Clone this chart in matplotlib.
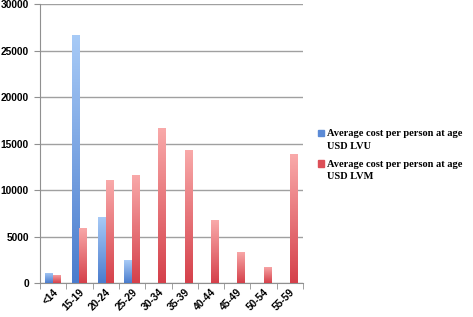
import numpy as np
import matplotlib
matplotlib.use("Agg")
import matplotlib.pyplot as plt
from matplotlib.colors import LinearSegmentedColormap

ages = ["<14", "15-19", "20-24", "25-29", "30-34", "35-39", "40-44", "45-49", "50-54", "55-59"]
lvu = [1100, 26700, 7100, 2450, 0, 0, 0, 0, 0, 0]
lvm = [870, 5950, 11050, 11650, 16700, 14350, 6750, 3350, 1750, 13850]
yticks = [0, 5000, 10000, 15000, 20000, 25000, 30000]

blue_cm = LinearSegmentedColormap.from_list("b", ["#4a7ccd", "#a8cbf7"])
red_cm = LinearSegmentedColormap.from_list("r", ["#d5404a", "#f9aaaa"])

def gradient_bars(ax, bars, cmap):
	# paint each bar with a vertical gradient clipped to its patch
	grad = np.linspace(0, 1, 256).reshape(-1, 1)
	for b in bars:
		if b.get_height() <= 0:
			continue
		x0, y0 = b.get_x(), b.get_y()
		w, h = b.get_width(), b.get_height()
		im = ax.imshow(grad, cmap=cmap, origin="lower", aspect="auto",
			extent=[x0, x0 + w, y0, y0 + h], zorder=3)
		im.set_clip_path(b)
		b.set_facecolor("none")

fig = plt.figure(figsize=(4.73, 3.17), dpi=100)
ax = fig.add_axes([0.0846, 0.107, 0.556, 0.880])

x = np.arange(len(ages))
w = 0.295
b1 = ax.bar(x - w / 2, lvu, w, color="#6f9ee3", edgecolor="none", zorder=3,
	label="Average cost per person at age\nUSD LVU")
b2 = ax.bar(x + w / 2, lvm, w, color="#e86a70", edgecolor="none", zorder=3,
	label="Average cost per person at age\nUSD LVM")
gradient_bars(ax, b1, blue_cm)
gradient_bars(ax, b2, red_cm)

ax.set_xlim(-0.5, len(ages) - 0.5)
ax.set_ylim(0, 30000)
ax.set_yticks(yticks)
ax.set_yticklabels([str(v) for v in yticks], fontsize=7.4, fontweight="bold", family="Liberation Sans")
ax.yaxis.grid(True, color="#a0a0a0", linewidth=1.0, zorder=0)
ax.set_axisbelow(True)

ax.set_xticks(x)
ax.set_xticklabels(ages, rotation=45, ha="right", va="top", rotation_mode="anchor",
	fontsize=7.4, fontweight="bold", family="Liberation Sans")
ax.tick_params(axis="x", which="major", length=0, pad=3)
ax.set_xticks(np.arange(-0.5, len(ages)), minor=True)
ax.tick_params(axis="x", which="minor", length=4, color="#909090")
ax.tick_params(axis="y", length=4, color="#909090", pad=4)

for s in ["top", "right"]:
	ax.spines[s].set_visible(False)
for s in ["left", "bottom"]:
	ax.spines[s].set_color("#909090")

h1 = plt.Rectangle((0, 0), 1, 1, color="#5b8ad6")
h2 = plt.Rectangle((0, 0), 1, 1, color="#dd5058")
leg = fig.legend([h1, h2], [b1.get_label(), b2.get_label()], loc="center left",
	bbox_to_anchor=(0.672, 0.51), frameon=False, handlelength=0.55, handleheight=0.55,
	handletextpad=0.3, labelspacing=0.9, borderaxespad=0, borderpad=0,
	prop={"family": "Liberation Serif", "weight": "bold", "size": 7.5})
for t in leg.get_texts():
	t.set_linespacing(1.45)
# put the little squares next to the first line of each entry
for h in leg.legend_handles:
	h.set_y(h.get_y() + 5)

fig.savefig("out.png", dpi=100)
